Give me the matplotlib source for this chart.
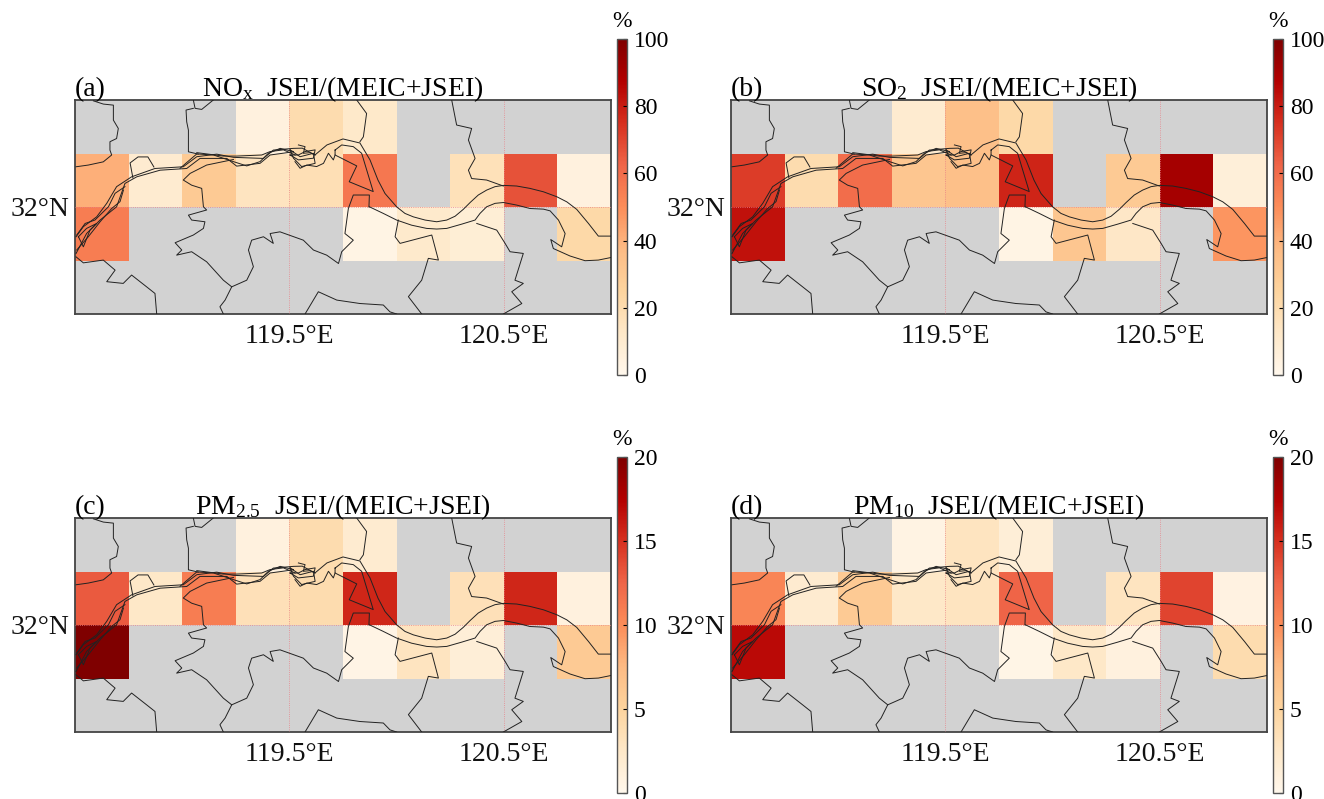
#Share of JSEI emissions in MEIC+JSEI, four pollutants on a small map grid
import numpy as np
import matplotlib
matplotlib.use("Agg")
import matplotlib.pyplot as plt

plt.rcParams['font.family'] = ['Liberation Serif', 'DejaVu Serif']
plt.rcParams['mathtext.fontset'] = 'custom'
plt.rcParams['mathtext.rm'] = 'Liberation Serif'
plt.rcParams['mathtext.it'] = 'Liberation Serif'

n = np.nan

# cell edges, rows go from north to south
lon_edges = [118.5, 118.75, 119.0, 119.25, 119.5, 119.75, 120.0, 120.25, 120.5, 120.75, 121.0]
lat_edges = [32.5, 32.25, 32.0, 31.75, 31.5]

nox = [[n, n, n, 5, 20, 12, n, n, n, n],
       [41, 10, 30, 15, 18, 57, n, 17, 67, 5],
       [55, n, n, n, n, 3, 11, 8, n, 22],
       [n, n, n, n, n, n, n, n, n, n]]
so2 = [[n, n, n, 10, 35, 22, n, n, n, n],
       [72, 20, 60, 32, 35, 78, n, 30, 91, 7],
       [83, n, n, n, n, 3, 32, 13, n, 48],
       [n, n, n, n, n, n, n, n, n, n]]
pm25 = [[n, n, n, 1.0, 4, 2, n, n, n, n],
        [13, 2.5, 11, 3.5, 4, 15.5, n, 3.5, 15.5, 1.0],
        [20, n, n, n, n, 0.5, 3, 1.5, n, 6],
        [n, n, n, n, n, n, n, n, n, n]]
pm10 = [[n, n, n, 0.7, 3, 1.5, n, n, n, n],
        [10.5, 2, 6, 2.5, 3, 12.5, n, 3, 14, 0.8],
        [17, n, n, n, n, 0.4, 2.5, 1, n, 4],
        [n, n, n, n, n, n, n, n, n, n]]

panel_values = [nox, so2, pm25, pm10]
panel_labels = ['(a)', '(b)', '(c)', '(d)']
panel_species = ['NO$_{\\mathrm{x}}$', 'SO$_{\\mathrm{2}}$', 'PM$_{\\mathrm{2.5}}$', 'PM$_{\\mathrm{10}}$']
panel_max = [100, 100, 20, 20]
panel_ticks = [[0, 20, 40, 60, 80, 100], [0, 20, 40, 60, 80, 100], [0, 5, 10, 15, 20], [0, 5, 10, 15, 20]]

# river banks (lon, lat)
north_bank = [(118.505, 31.861), (118.539, 31.908), (118.601, 31.954), (118.648, 32.017), (118.694, 32.095),
              (118.764, 32.141), (118.873, 32.180), (119.005, 32.188), (119.068, 32.235), (119.161, 32.247),
              (119.239, 32.232), (119.379, 32.227), (119.425, 32.266), (119.519, 32.274), (119.560, 32.275),
              (119.619, 32.243), (119.675, 32.290), (119.750, 32.318), (119.829, 32.299), (119.876, 32.220),
              (119.913, 32.126), (119.946, 32.063), (120.000, 32.001), (120.039, 31.970), (120.078, 31.954),
              (120.133, 31.939), (120.187, 31.931), (120.234, 31.939), (120.273, 31.957), (120.311, 31.989),
              (120.343, 32.021), (120.381, 32.056), (120.420, 32.079), (120.459, 32.095), (120.498, 32.101),
              (120.560, 32.098), (120.622, 32.087), (120.685, 32.071), (120.747, 32.048), (120.794, 32.024),
              (120.840, 31.989), (120.895, 31.923), (120.941, 31.864), (121.0, 31.864)]
south_bank = [(118.505, 31.783), (118.554, 31.876), (118.617, 31.939), (118.694, 32.001), (118.733, 32.110),
              (118.788, 32.141), (118.897, 32.172), (119.021, 32.180), (119.083, 32.227), (119.208, 32.227),
              (119.254, 32.191), (119.363, 32.204), (119.410, 32.243), (119.519, 32.258)]
south_bank_east = [(119.873, 32.001), (119.938, 31.970), (120.000, 31.939), (120.070, 31.915), (120.140, 31.900),
                   (120.187, 31.897), (120.234, 31.900), (120.304, 31.920), (120.366, 31.939), (120.389, 31.970),
                   (120.420, 32.001), (120.459, 32.017), (120.498, 32.021), (120.560, 32.009), (120.622, 31.993),
                   (120.685, 31.990), (120.716, 31.982), (120.755, 31.939), (120.786, 31.876), (120.770, 31.814),
                   (120.719, 31.848), (120.731, 31.806), (120.809, 31.771), (120.879, 31.749), (120.941, 31.752),
                   (121.0, 31.764)]
bend_island = [(119.713, 32.266), (119.744, 32.290), (119.798, 32.282), (119.837, 32.251), (119.891, 32.072),
               (119.779, 32.118), (119.814, 32.192), (119.713, 32.243), (119.713, 32.266)]
west_loop = [(118.770, 32.136), (118.757, 32.206), (118.794, 32.234), (118.840, 32.234), (118.868, 32.187)]
strand_1 = [(118.508, 31.869), (118.547, 31.923), (118.593, 31.939), (118.656, 32.001), (118.687, 32.064), (118.733, 32.095)]
strand_2 = [(118.508, 31.799), (118.562, 31.861), (118.617, 31.931), (118.671, 31.993), (118.710, 32.025), (118.726, 32.079)]
strand_3 = [(118.516, 31.861), (118.539, 31.814), (118.570, 31.892), (118.601, 31.923), (118.554, 31.900), (118.516, 31.861)]
strand_4 = [(118.990, 32.181), (119.068, 32.248), (119.146, 32.243), (119.239, 32.212), (119.301, 32.192),
            (119.363, 32.212), (119.402, 32.251), (119.457, 32.274), (119.519, 32.259)]
strand_5 = [(119.068, 32.254), (119.192, 32.238), (119.254, 32.238), (119.371, 32.243), (119.410, 32.259),
            (119.472, 32.267), (119.527, 32.243)]
knot_1 = [(119.503, 32.267), (119.550, 32.235), (119.612, 32.251), (119.620, 32.204), (119.557, 32.189),
          (119.519, 32.228), (119.503, 32.267)]
knot_2 = [(119.542, 32.290), (119.573, 32.282), (119.565, 32.251), (119.596, 32.254), (119.620, 32.243)]
knot_3 = [(119.526, 32.212), (119.550, 32.181), (119.581, 32.196), (119.627, 32.189), (119.659, 32.204),
          (119.682, 32.251), (119.705, 32.220), (119.713, 32.243)]
knot_4 = [(119.503, 32.243), (119.542, 32.220), (119.612, 32.228), (119.620, 32.267), (119.573, 32.259),
          (119.542, 32.243), (119.503, 32.243)]

# county boundaries (lon, lat)
border_nw = [(118.586, 32.496), (118.632, 32.481), (118.679, 32.476), (118.679, 32.406), (118.702, 32.367),
             (118.694, 32.320), (118.663, 32.305), (118.663, 32.266), (118.671, 32.243), (118.632, 32.211),
             (118.562, 32.196), (118.505, 32.188)]
border_n = [(119.052, 32.5), (119.060, 32.461), (119.091, 32.456), (119.145, 32.5)]
border_n2 = [(119.052, 32.461), (119.018, 32.453), (119.021, 32.398), (119.029, 32.359), (119.029, 32.258), (119.075, 32.247)]
border_mid = [(119.239, 32.222), (119.114, 32.196), (119.037, 32.157), (119.005, 32.126), (119.044, 32.102),
              (119.091, 32.087), (119.099, 32.001), (119.114, 31.986), (119.029, 31.962), (119.044, 31.939),
              (119.106, 31.931), (119.099, 31.900), (119.052, 31.869), (118.967, 31.833), (118.998, 31.799),
              (118.974, 31.775), (119.044, 31.791), (119.114, 31.744), (119.192, 31.658), (119.231, 31.627),
              (119.200, 31.565), (119.176, 31.534), (119.192, 31.5)]
border_south = [(119.231, 31.627), (119.301, 31.658), (119.332, 31.721), (119.309, 31.799), (119.324, 31.845),
                (119.379, 31.861), (119.425, 31.830), (119.410, 31.876), (119.456, 31.884), (119.565, 31.845),
                (119.612, 31.799), (119.674, 31.775), (119.729, 31.736), (119.744, 31.791), (119.798, 31.845),
                (119.759, 31.876), (119.775, 31.993), (119.798, 32.056), (119.873, 32.056), (119.871, 32.000)]
border_sw = [(118.881, 31.5), (118.873, 31.596), (118.834, 31.627), (118.764, 31.682), (118.725, 31.643),
             (118.648, 31.651), (118.687, 31.705), (118.632, 31.752), (118.539, 31.739), (118.505, 31.767)]
border_bottom = [(119.573, 31.5), (119.635, 31.604), (119.721, 31.565), (119.829, 31.549), (119.938, 31.542),
                 (119.969, 31.510), (120.0, 31.5)]
border_top_c = [(119.814, 32.5), (119.860, 32.437), (119.845, 32.328), (119.829, 32.305)]
border_top_e = [(120.257, 32.5), (120.280, 32.383), (120.350, 32.367), (120.335, 32.313), (120.366, 32.227),
                (120.335, 32.172), (120.350, 32.133), (120.420, 32.126), (120.498, 32.098)]
border_se = [(120.374, 31.923), (120.467, 31.892), (120.506, 31.830), (120.529, 31.791), (120.591, 31.783),
             (120.552, 31.658), (120.591, 31.643), (120.537, 31.604), (120.584, 31.549), (120.498, 31.5)]
border_lower = [(120.008, 31.939), (119.993, 31.861), (120.016, 31.830), (120.164, 31.869), (120.195, 31.752),
                (120.148, 31.760), (120.117, 31.658), (120.055, 31.581), (120.117, 31.5)]

all_lines = [north_bank, south_bank, south_bank_east, bend_island, west_loop, strand_1, strand_2, strand_3,
             strand_4, strand_5, knot_1, knot_2, knot_3, knot_4, border_nw, border_n, border_n2, border_mid,
             border_south, border_sw, border_bottom, border_top_c, border_top_e, border_se, border_lower]

W, H = 1324, 799
fig = plt.figure(figsize=(W / 100, H / 100), dpi=100)

def px_axes(x0, y0, x1, y1):
    return fig.add_axes([x0 / W, 1 - y1 / H, (x1 - x0) / W, (y1 - y0) / H])

lefts = [75, 731, 75, 731]
tops = [100, 100, 518, 518]

for i in range(4):
    x0, y0 = lefts[i], tops[i]
    ax = px_axes(x0, y0, x0 + 536, y0 + 214)
    ax.set_facecolor('#d2d2d2')
    mesh = ax.pcolormesh(lon_edges, lat_edges, np.ma.masked_invalid(np.array(panel_values[i], dtype=float)),
                         cmap='OrRd', vmin=0, vmax=panel_max[i], zorder=1)
    ax.set_xlim(118.5, 121.0)
    ax.set_ylim(31.5, 32.5)

    ax.set_xticks([119.5, 120.5])
    ax.set_xticklabels(['119.5°E', '120.5°E'])
    ax.set_yticks([32.0])
    ax.set_yticklabels(['32°N'])
    ax.tick_params(axis='x', length=0, labelsize=20, pad=7, colors='#111111')
    ax.tick_params(axis='y', length=0, labelsize=20, pad=4, colors='#111111')
    ax.grid(True, color='#e8838a', lw=0.6, ls=':', zorder=2)
    ax.set_axisbelow(False)

    for line in all_lines:
        xs, ys = zip(*line)
        ax.plot(xs, ys, color='#222222', lw=0.7, zorder=3, solid_joinstyle='round')

    for s in ax.spines.values():
        s.set_color('#444444')
        s.set_linewidth(1.3)

    ax.text(0, 1.02, panel_labels[i], transform=ax.transAxes, fontsize=20, ha='left', va='baseline')
    ax.text(0.5, 1.02, panel_species[i] + '  JSEI/(MEIC+JSEI)', transform=ax.transAxes, fontsize=20,
            ha='center', va='baseline')

    # colour bar to the right of the map
    cax = px_axes(x0 + 542, y0 - 61, x0 + 552, y0 + 275)
    cb = fig.colorbar(mesh, cax=cax, ticks=panel_ticks[i])
    cb.ax.tick_params(direction='in', length=3, width=0.8, labelsize=17, pad=5)
    cb.outline.set_edgecolor('#555555')
    cb.outline.set_linewidth(1.0)
    cax.text(0.5, 1.02, '%', transform=cax.transAxes, fontsize=17, ha='center', va='bottom')

fig.savefig('out.png', dpi=100)
